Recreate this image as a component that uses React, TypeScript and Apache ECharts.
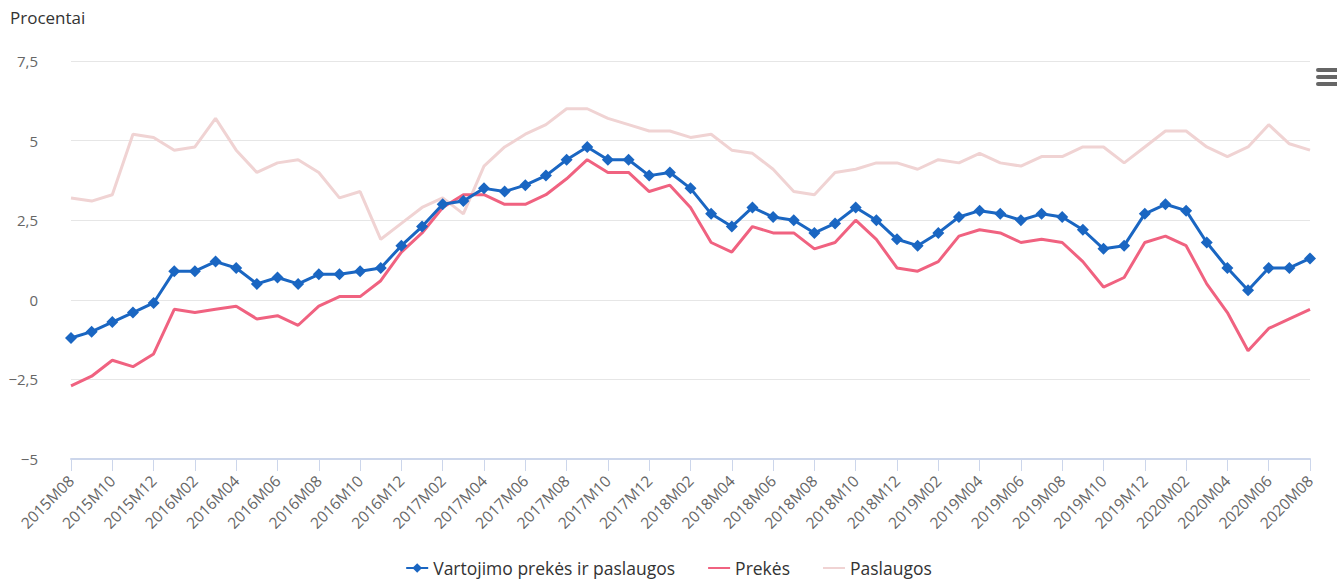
import React, { useEffect, useRef } from "react";
import * as echarts from "echarts";

const categories: string[] = [
  "2015M08","2015M09","2015M10","2015M11","2015M12",
  "2016M01","2016M02","2016M03","2016M04","2016M05","2016M06","2016M07","2016M08","2016M09","2016M10","2016M11","2016M12",
  "2017M01","2017M02","2017M03","2017M04","2017M05","2017M06","2017M07","2017M08","2017M09","2017M10","2017M11","2017M12",
  "2018M01","2018M02","2018M03","2018M04","2018M05","2018M06","2018M07","2018M08","2018M09","2018M10","2018M11","2018M12",
  "2019M01","2019M02","2019M03","2019M04","2019M05","2019M06","2019M07","2019M08","2019M09","2019M10","2019M11","2019M12",
  "2020M01","2020M02","2020M03","2020M04","2020M05","2020M06","2020M07","2020M08",
];

const vartojimo: number[] = [
  -1.2, -1.0, -0.7, -0.4, -0.1,
  0.9, 0.9, 1.2, 1.0, 0.5, 0.7, 0.5, 0.8, 0.8, 0.9, 1.0, 1.7,
  2.3, 3.0, 3.1, 3.5, 3.4, 3.6, 3.9, 4.4, 4.8, 4.4, 4.4, 3.9,
  4.0, 3.5, 2.7, 2.3, 2.9, 2.6, 2.5, 2.1, 2.4, 2.9, 2.5, 1.9,
  1.7, 2.1, 2.6, 2.8, 2.7, 2.5, 2.7, 2.6, 2.2, 1.6, 1.7, 2.7,
  3.0, 2.8, 1.8, 1.0, 0.3, 1.0, 1.0, 1.3,
];

const prekes: number[] = [
  -2.7, -2.4, -1.9, -2.1, -1.7,
  -0.3, -0.4, -0.3, -0.2, -0.6, -0.5, -0.8, -0.2, 0.1, 0.1, 0.6, 1.5,
  2.1, 2.9, 3.3, 3.3, 3.0, 3.0, 3.3, 3.8, 4.4, 4.0, 4.0, 3.4,
  3.6, 2.9, 1.8, 1.5, 2.3, 2.1, 2.1, 1.6, 1.8, 2.5, 1.9, 1.0,
  0.9, 1.2, 2.0, 2.2, 2.1, 1.8, 1.9, 1.8, 1.2, 0.4, 0.7, 1.8,
  2.0, 1.7, 0.5, -0.4, -1.6, -0.9, -0.6, -0.3,
];

const paslaugos: number[] = [
  3.2, 3.1, 3.3, 5.2, 5.1,
  4.7, 4.8, 5.7, 4.7, 4.0, 4.3, 4.4, 4.0, 3.2, 3.4, 1.9, 2.4,
  2.9, 3.2, 2.7, 4.2, 4.8, 5.2, 5.5, 6.0, 6.0, 5.7, 5.5, 5.3,
  5.3, 5.1, 5.2, 4.7, 4.6, 4.1, 3.4, 3.3, 4.0, 4.1, 4.3, 4.3,
  4.1, 4.4, 4.3, 4.6, 4.3, 4.2, 4.5, 4.5, 4.8, 4.8, 4.3, 4.8,
  5.3, 5.3, 4.8, 4.5, 4.8, 5.5, 4.9, 4.7,
];

const seriesNames: string[] = ["Vartojimo prekės ir paslaugos", "Prekės", "Paslaugos"];
const yTicks = { min: -5, max: 7.5, interval: 2.5 };
const yTitle = "Procentai";

const FONT = "'Open Sans', 'DejaVu Sans', sans-serif";

export default function App() {
  const ref = useRef<HTMLDivElement>(null);
  useEffect(() => {
    if (!ref.current) return;
    const chart = echarts.init(ref.current, undefined, { renderer: "svg" });
    chart.setOption({
      animation: false,
      backgroundColor: "#ffffff",
      textStyle: { fontFamily: FONT },
      grid: { left: 71, right: 27, top: 61, bottom: 122, containLabel: false },
      legend: {
        top: 557,
        left: "center",
        itemGap: 32,
        itemWidth: 22,
        itemHeight: 12,
        padding: 2,
        textStyle: { fontSize: 17.5, color: "#333333", fontFamily: FONT },
        data: [
          { name: seriesNames[0] },
          { name: seriesNames[1], itemStyle: { opacity: 0 } },
          { name: seriesNames[2], itemStyle: { opacity: 0 } },
        ],
      },
      graphic: [
        { type: "text", left: 10, top: 9, style: { text: yTitle, fontSize: 17, fill: "#333333", fontFamily: FONT } },
        { type: "rect", shape: { x: 1316, y: 68, width: 24, height: 4, r: 2 }, style: { fill: "#666666" } },
        { type: "rect", shape: { x: 1316, y: 75, width: 24, height: 4, r: 2 }, style: { fill: "#666666" } },
        { type: "rect", shape: { x: 1316, y: 82, width: 24, height: 4, r: 2 }, style: { fill: "#666666" } },
      ],
      xAxis: {
        type: "category",
        data: categories,
        boundaryGap: false,
        axisLine: { onZero: false, lineStyle: { color: "#ccd6eb", width: 2 } },
        axisTick: { show: true, interval: 1, length: 12, lineStyle: { color: "#ccd6eb" } },
        axisLabel: {
          interval: 1,
          rotate: 45,
          color: "#666666",
          fontSize: 15.5,
          fontFamily: FONT,
          margin: 19,
        },
        splitLine: { show: false },
      },
      yAxis: {
        type: "value",
        min: yTicks.min,
        max: yTicks.max,
        interval: yTicks.interval,
        axisLine: { show: false },
        axisTick: { show: false },
        axisLabel: {
          color: "#666666",
          fontSize: 15,
          fontFamily: FONT,
          margin: 33,
          formatter: (v: number) => String(v).replace(".", ",").replace("-", "\u2212"),
        },
        splitLine: { lineStyle: { color: "#e6e6e6", width: 1 } },
      },
      series: [
        {
          name: seriesNames[0],
          type: "line",
          data: vartojimo,
          color: "#1a66c2",
          symbol: "diamond",
          symbolSize: 12,
          showSymbol: true,
          lineStyle: { width: 3, color: "#1a66c2" },
          itemStyle: { color: "#1a66c2" },
          z: 5,
        },
        {
          name: seriesNames[1],
          type: "line",
          data: prekes,
          color: "#f06280",
          symbol: "none",
          lineStyle: { width: 3, color: "#f06280" },
          z: 4,
        },
        {
          name: seriesNames[2],
          type: "line",
          data: paslaugos,
          color: "#f0d3d3",
          symbol: "none",
          lineStyle: { width: 3, color: "#f0d3d3" },
          z: 3,
        },
      ],
    });
    return () => chart.dispose();
  }, []);
  return <div ref={ref} style={{ width: 1337, height: 581, position: "absolute", left: 0, top: 0 }} />;
}
